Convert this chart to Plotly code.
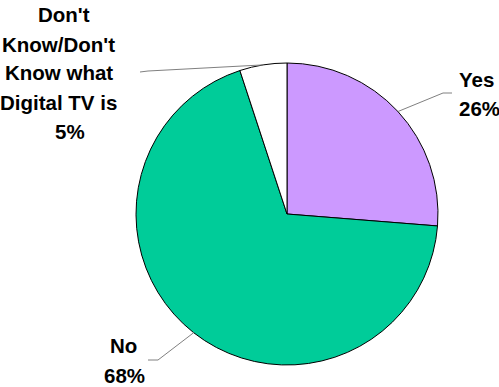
import math
import plotly.graph_objects as go

# Survey answers: "Do you have / know about Digital TV?"
labels = ["Yes", "No", "Don't Know/Don't Know what Digital TV is"]
label_lines = [["Yes", "26%"],
               ["No", "68%"],
               ["Don't", "Know/Don't", "Know what", "Digital TV is", "5%"]]
values = [26, 68, 5]
colors = ["#CC99FF", "#00CC99", "#FFFFFF"]

W, H = 499, 387
CX, CY, R = 287, 214, 151  # pie centre and radius in pixels

fig = go.Figure(go.Pie(
    labels=labels,
    values=values,
    sort=False,
    direction="clockwise",
    rotation=0,
    marker=dict(colors=colors, line=dict(color="#000000", width=1)),
    textinfo="none",
    hoverinfo="label+percent",
    showlegend=False,
    domain=dict(x=[(CX - R) / W, (CX + R) / W],
                y=[1 - (CY + R) / H, 1 - (CY - R) / H]),
))


def px(x, y):
    return x / W, 1 - y / H


# leader line elbows/ends and per-line label placement for each slice
elbows = [(443, 93), (158, 360), (148, 71)]
ends = [(452, 93), (148, 360), (140, 72)]
label_x = [[457, 457], [123, 124], [64, 58, 59, 58, 70]]
label_y = [[80, 108], [345, 375], [15, 45, 73, 102, 132]]
label_anchor = ["left", "center", "center"]

total = sum(values)
cum = 0
shapes = []
annotations = []
for i, v in enumerate(values):
    mid = (cum + v / 2) / total * 2 * math.pi
    cum += v
    ax = CX + R * math.sin(mid)
    ay = CY - R * math.cos(mid)
    ex, ey = elbows[i]
    fx, fy = ends[i]
    x0, y0 = px(ax, ay)
    x1, y1 = px(ex, ey)
    x2, y2 = px(fx, fy)
    shapes.append(dict(type="path", xref="paper", yref="paper",
                       path=f"M {x0} {y0} L {x1} {y1} L {x2} {y2}",
                       line=dict(color="#808080", width=1)))
    for line, lx, ly in zip(label_lines[i], label_x[i], label_y[i]):
        tx, ty = px(lx, ly)
        annotations.append(dict(
            x=tx, y=ty, xref="paper", yref="paper", text=line,
            showarrow=False, xanchor=label_anchor[i], yanchor="middle",
            font=dict(family="Liberation Sans, Arial, sans-serif", size=20.5,
                      color="#000000", weight="bold"),
        ))

fig.update_layout(
    width=W, height=H,
    margin=dict(l=0, r=0, t=0, b=0),
    paper_bgcolor="#FFFFFF",
    plot_bgcolor="#FFFFFF",
    shapes=shapes,
    annotations=annotations,
)

fig.write_html("out.html")
